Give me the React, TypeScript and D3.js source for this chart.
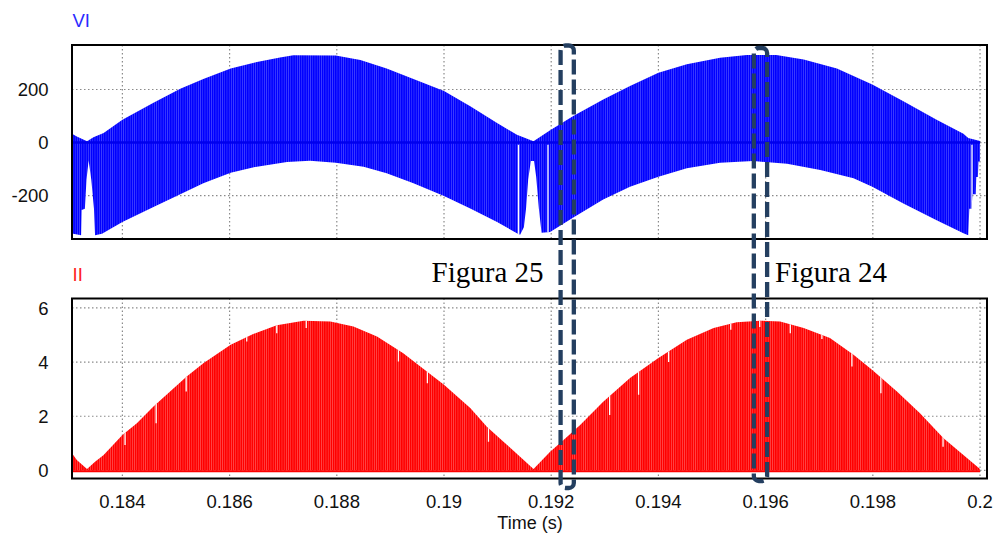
import React from 'react';
import * as d3 from 'd3';

// Time axis
const xTickValues = [0.184, 0.186, 0.188, 0.19, 0.192, 0.194, 0.196, 0.198, 0.2];
const xTickLabels = ['0.184', '0.186', '0.188', '0.19', '0.192', '0.194', '0.196', '0.198', '0.2'];
const vlTicks = [200, 0, -200];
const vlTickLabels = ['200', '0', '-200'];
const ilTicks = [6, 4, 2, 0];
const ilTickLabels = ['6', '4', '2', '0'];

// VI: upper envelope of the switched voltage [time s, volts]
const vlUpper: [number, number][] = [
  [0.18306, 33], [0.18315, 23], [0.18334, 5], [0.18346, 20], [0.18365, 36], [0.184, 86],
  [0.18458, 150], [0.18508, 203], [0.18551, 240], [0.18602, 279], [0.18651, 304],
  [0.18694, 321], [0.18719, 329], [0.18798, 328], [0.18844, 311], [0.18893, 279],
  [0.18943, 240], [0.19, 194], [0.19049, 137], [0.19099, 74], [0.19136, 29], [0.19167, 5],
  [0.19198, 46], [0.19242, 101], [0.19297, 162], [0.19347, 213], [0.194, 263],
  [0.19453, 295], [0.19515, 320], [0.19565, 330], [0.1962, 330], [0.19671, 313],
  [0.19733, 279], [0.19799, 219], [0.19857, 156], [0.19919, 86], [0.19969, 33],
  [0.19978, 17], [0.2, 6],
];

// VI: lower envelope of the switched voltage [time s, volts]
const vlLower: [number, number][] = [
  [0.18306, -343], [0.18323, -350], [0.18324, -255], [0.1833, -250], [0.18333, -140],
  [0.18337, -68], [0.18342, -140], [0.18347, -250], [0.18349, -350], [0.18362, -344],
  [0.184, -300], [0.18458, -243], [0.18508, -195], [0.18551, -154], [0.18602, -114],
  [0.18651, -91], [0.18707, -73], [0.1875, -69], [0.18798, -76], [0.1885, -91],
  [0.18893, -116], [0.18943, -154], [0.19, -202], [0.19049, -249], [0.19099, -300],
  [0.19136, -342], [0.19142, -348], [0.19149, -320], [0.19153, -250], [0.19157, -140],
  [0.19162, -70], [0.19168, -70], [0.19172, -130], [0.19177, -250], [0.19182, -340],
  [0.19198, -338], [0.19242, -282], [0.19297, -215], [0.19347, -167], [0.194, -129],
  [0.19453, -97], [0.19515, -76], [0.19577, -70], [0.1964, -80], [0.19702, -104],
  [0.19764, -135], [0.19799, -167], [0.19857, -230], [0.19919, -293], [0.19969, -342],
  [0.19978, -350], [0.1998, -250], [0.19984, -250], [0.19986, -195], [0.19992, -195],
  [0.19993, -130], [0.19996, -130], [0.19997, -72], [0.2, -72],
];

// VI: instants with a missing negative pulse
const vlSlits = [0.19139, 0.19194, 0.19985];

// II: peak envelope of the current pulses [time s, amps]
const ilEnvelope: [number, number][] = [
  [0.18306, 0.63], [0.18315, 0.38], [0.18334, 0.05], [0.18349, 0.32], [0.18365, 0.57],
  [0.184, 1.31], [0.18427, 1.74], [0.18458, 2.36], [0.18489, 2.91], [0.1852, 3.47],
  [0.18551, 3.96], [0.18602, 4.64], [0.18644, 5.04], [0.18688, 5.36], [0.18738, 5.53],
  [0.18788, 5.5], [0.18831, 5.32], [0.18875, 4.95], [0.18924, 4.33], [0.18974, 3.56],
  [0.19, 3.16], [0.19049, 2.3], [0.1908, 1.61], [0.19111, 1.06], [0.19142, 0.5],
  [0.19167, 0.05], [0.19198, 0.69], [0.19223, 1.12], [0.19254, 1.68], [0.19297, 2.54],
  [0.19347, 3.41], [0.194, 4.15], [0.19453, 4.83], [0.19503, 5.26], [0.19546, 5.47],
  [0.1959, 5.53], [0.19627, 5.5], [0.19671, 5.26], [0.1972, 4.89], [0.19764, 4.27],
  [0.19799, 3.71], [0.19845, 2.91], [0.19888, 2.11], [0.19932, 1.19], [0.19969, 0.57],
  [0.2, 0.05],
];

// II: single shorter pulses [time s, pulse height A]
const ilDips: [number, number][] = [
  [0.18405, 0.94], [0.18463, 1.74], [0.18519, 2.91], [0.18632, 4.76], [0.18688, 5.07],
  [0.18743, 5.26], [0.18915, 4.02], [0.18969, 3.22], [0.19083, 1.06], [0.19309, 2.05],
  [0.19363, 2.79], [0.19419, 4.0], [0.19535, 5.2], [0.19589, 5.3], [0.19646, 5.07],
  [0.19705, 4.85], [0.19761, 3.84], [0.19815, 2.85], [0.19931, 0.87],
];

// Highlighted instants [start s, end s]
const markerNames = ['Figura 25', 'Figura 24'];
const markerSpans: [number, number][] = [[0.192175, 0.192422], [0.19578, 0.196028]];

const W = 995;
const H = 537;
const left = 72;
const right = 987;
const top1 = 45;
const bot1 = 239;
const top2 = 298.5;
const bot2 = 478.5;

const FONT = '"Liberation Sans", Arial, sans-serif';

export default function App() {
  const x = d3.scaleLinear().domain([0.18306, 0.20013]).range([left, right]);
  const yV = d3.scaleLinear().domain([-364, 368]).range([bot1, top1]);
  const yI = d3.scaleLinear().domain([-0.3, 6.35]).range([bot2, top2]);

  const line = d3.line<[number, number]>().x((d) => x(d[0])).y((d) => yV(d[1]));
  const vlPath = line([...vlUpper, ...vlLower.slice().reverse()]) + 'Z';

  const ilArea = d3
    .area<[number, number]>()
    .x((d) => x(d[0]))
    .y0(yI(0))
    .y1((d) => yI(d[1]));
  const ilPath = ilArea(ilEnvelope) || '';

  const grid = { stroke: '#8a8a8a', strokeWidth: 1.2, strokeDasharray: '1.5 2.5' };
  const tEnd = 0.2;

  const markerRects = markerSpans.map(([a, b], i) => {
    const x0 = x(a);
    const x1 = x(b);
    const yTop = i === 0 ? 45.5 : 48;
    const yBot = i === 0 ? 488 : 481;
    return { x0, x1, yTop, yBot };
  });

  return (
    <svg
      width={W}
      height={H}
      viewBox={`0 0 ${W} ${H}`}
      style={{ position: 'absolute', left: 0, top: 0, background: '#fff' }}
    >
      <defs>
        <pattern id="blueStripes" width="2.2" height="10" patternUnits="userSpaceOnUse">
          <rect width="2.2" height="10" fill="#0000ff" />
          <rect width="0.6" height="10" fill="#5050ff" />
        </pattern>
        <pattern id="redStripes" width="2.2" height="10" patternUnits="userSpaceOnUse">
          <rect width="2.2" height="10" fill="#ff0000" />
          <rect width="0.6" height="10" fill="#ff5a5a" />
        </pattern>
        <clipPath id="vlClip">
          <path d={vlPath} />
        </clipPath>
        <clipPath id="ilClip">
          <path d={ilPath} />
        </clipPath>
        <clipPath id="plot1">
          <rect x={left} y={top1} width={right - left} height={bot1 - top1} />
        </clipPath>
        <clipPath id="plot2">
          <rect x={left} y={top2} width={right - left} height={bot2 - top2} />
        </clipPath>
      </defs>

      {/* ---------- VI panel ---------- */}
      <text x={72.5} y={26.7} fontFamily={FONT} fontSize={18.5} fill="#2b2bff">VI</text>
      <g>
        {xTickValues.map((t) => (
          <line key={t} x1={x(t)} x2={x(t)} y1={top1} y2={bot1} {...grid} />
        ))}
        {vlTicks.map((v) => (
          <line key={v} x1={left} x2={right} y1={yV(v)} y2={yV(v)} {...grid} />
        ))}
      </g>
      <g clipPath="url(#plot1)">
        <path d={vlPath} fill="url(#blueStripes)" />
        <g clipPath="url(#vlClip)">
          {vlSlits.map((t) => (
            <line key={t} x1={x(t)} x2={x(t)} y1={yV(-8)} y2={yV(-370)} stroke="#fff" strokeWidth={1.3} />
          ))}
        </g>
        <line x1={x(0.18306)} x2={x(tEnd)} y1={yV(0)} y2={yV(0)} stroke="#0000ee" strokeWidth={2.4} />
      </g>
      <rect x={left} y={top1} width={right - left} height={bot1 - top1} fill="none" stroke="#000" strokeWidth={2} />
      {vlTicks.map((v, i) => (
        <text
          key={v}
          x={48.5}
          y={yV(v)}
          dy="0.36em"
          textAnchor="end"
          fontFamily={FONT}
          fontSize={18.5}
          fill="#111"
        >
          {vlTickLabels[i]}
        </text>
      ))}

      {/* ---------- II panel ---------- */}
      <text x={72.5} y={281} fontFamily={FONT} fontSize={18.5} fill="#ff2222">II</text>
      <g>
        {xTickValues.map((t) => (
          <line key={t} x1={x(t)} x2={x(t)} y1={top2} y2={bot2} {...grid} />
        ))}
        {ilTicks.map((v) => (
          <line key={v} x1={left} x2={right} y1={yI(v)} y2={yI(v)} {...grid} />
        ))}
      </g>
      <g clipPath="url(#plot2)">
        <path d={ilPath} fill="url(#redStripes)" />
        <g clipPath="url(#ilClip)">
          {ilDips.map(([t, v]) => (
            <line key={t} x1={x(t)} x2={x(t)} y1={yI(v)} y2={yI(6.4)} stroke="#fff" strokeWidth={1.3} />
          ))}
        </g>
        <line x1={x(0.18306)} x2={x(tEnd)} y1={yI(0) + 0.8} y2={yI(0) + 0.8} stroke="#ff0000" strokeWidth={2} />
      </g>
      <rect x={left} y={top2} width={right - left} height={bot2 - top2} fill="none" stroke="#000" strokeWidth={2} />
      {ilTicks.map((v, i) => (
        <text
          key={v}
          x={48.5}
          y={yI(v)}
          dy="0.36em"
          textAnchor="end"
          fontFamily={FONT}
          fontSize={18.5}
          fill="#111"
        >
          {ilTickLabels[i]}
        </text>
      ))}

      {/* ---------- time axis ---------- */}
      {xTickValues.map((t, i) => (
        <text
          key={t}
          x={x(t)}
          y={508}
          textAnchor="middle"
          fontFamily={FONT}
          fontSize={18.5}
          fill="#111"
        >
          {xTickLabels[i]}
        </text>
      ))}
      <text x={530} y={529} textAnchor="middle" fontFamily={FONT} fontSize={18} fill="#111">
        Time (s)
      </text>

      {/* ---------- highlighted instants ---------- */}
      {markerRects.map((m, i) => (
        <rect
          key={i}
          x={m.x0}
          y={m.yTop}
          width={m.x1 - m.x0}
          height={m.yBot - m.yTop}
          rx={5}
          ry={5}
          fill="none"
          stroke="#243f60"
          strokeWidth={4.3}
          strokeDasharray="15 5"
        />
      ))}
      <text
        x={markerRects[0].x0 - 17}
        y={281.7}
        textAnchor="end"
        fontFamily='"Liberation Serif", "Times New Roman", serif'
        fontSize={29}
        fill="#000"
      >
        {markerNames[0]}
      </text>
      <text
        x={markerRects[1].x1 + 8}
        y={281.7}
        textAnchor="start"
        fontFamily='"Liberation Serif", "Times New Roman", serif'
        fontSize={29}
        fill="#000"
      >
        {markerNames[1]}
      </text>
    </svg>
  );
}
